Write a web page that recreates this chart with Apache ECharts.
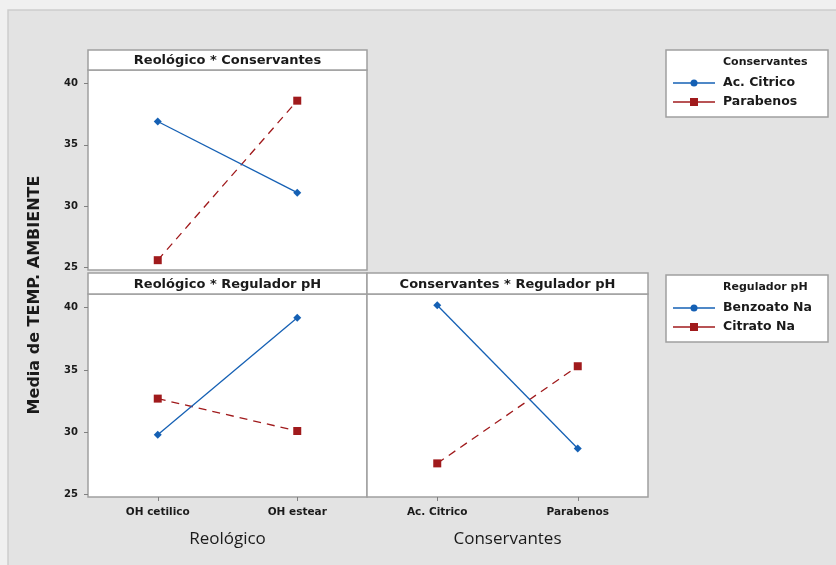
<!DOCTYPE html>
<html><head><meta charset="utf-8">
<script src="https://cdn.jsdelivr.net/npm/echarts@6/dist/echarts.min.js"></script>
<style>html,body{margin:0;padding:0;background:#f0f0f0;}#c{width:836px;height:565px;}</style>
</head><body><div id="c"></div>
<script>
// ---- data ----
const reologico = ['OH cetilico', 'OH estear'];
const conservantes = ['Ac. Citrico', 'Parabenos'];
const reguladorLevels = ['Benzoato Na', 'Citrato Na'];
const yTicks = [25, 30, 35, 40];
// Reológico * Conservantes
const p1AcCitrico = [36.9, 31.1];
const p1Parabenos = [25.6, 38.6];
// Reológico * Regulador pH
const p2Benzoato = [29.8, 39.2];
const p2Citrato = [32.7, 30.1];
// Conservantes * Regulador pH
const p3Benzoato = [40.2, 28.7];
const p3Citrato = [27.5, 35.3];

const BLUE = '#1560b4', RED = '#a01a1c', FRAME = '#a0a0a0', TXT = '#1a1a1a';
const BFONT = '"DejaVu Sans", sans-serif';
const FONT = '"Open Sans", "DejaVu Sans", sans-serif';
const yMin = 24.8, yMax = 41.1;

const grids = [
  {left: 88, top: 70, width: 279, height: 200},
  {left: 88, top: 294, width: 279, height: 203},
  {left: 367, top: 294, width: 281, height: 203}
];

function xAx(i, cats, showLabels, name) {
  return {
    type: 'category', gridIndex: i, data: cats, boundaryGap: true,
    axisLine: {show: false},
    axisTick: {show: showLabels, alignWithLabel: true, length: 4, lineStyle: {color: '#808080'}},
    axisLabel: {show: showLabels, color: TXT, fontSize: 10.5, fontWeight: 'bold', fontFamily: BFONT, margin: 10},
    name: name || '', nameLocation: 'middle', nameGap: 34,
    nameTextStyle: {color: TXT, fontSize: 17, fontFamily: FONT},
    splitLine: {show: false}
  };
}
function yAx(i, showLabels) {
  return {
    type: 'value', gridIndex: i, min: yMin, max: yMax,
    axisLine: {show: false},
    axisTick: {show: showLabels, length: 4, customValues: yTicks, lineStyle: {color: '#808080'}},
    axisLabel: {show: showLabels, customValues: yTicks, color: TXT, fontSize: 10, fontWeight: 'bold', fontFamily: BFONT, margin: 10},
    splitLine: {show: false}
  };
}
function ser(i, name, data, color, solid, symbol, size) {
  return {
    type: 'line', name: name, xAxisIndex: i, yAxisIndex: i, data: data,
    symbol: symbol, symbolSize: size, showSymbol: true,
    lineStyle: {color: color, width: 1.3, type: solid ? 'solid' : [8, 6]},
    itemStyle: {color: color}, z: solid ? 3 : 2, animation: false
  };
}

function strip(x, y, w, h, text) {
  return [
    {type: 'rect', shape: {x: x, y: y, width: w, height: h}, style: {fill: '#fff', stroke: FRAME, lineWidth: 1.5}, z: 5},
    {type: 'text', x: x + w / 2, y: y + h / 2 + 1, style: {text: text, fill: TXT, font: 'bold 13px ' + BFONT, align: 'center', verticalAlign: 'middle'}, z: 6}
  ];
}
function legendBox(y, title, items) {
  const g = [
    {type: 'rect', shape: {x: 666, y: y, width: 162, height: 67}, style: {fill: '#fff', stroke: FRAME, lineWidth: 1.5}, z: 5},
    {type: 'text', x: 723, y: y + 12, style: {text: title, fill: TXT, font: 'bold 11px ' + BFONT, verticalAlign: 'middle'}, z: 6}
  ];
  items.forEach((it, k) => {
    const yy = y + 33 + k * 19;
    g.push({type: 'line', shape: {x1: 673, y1: yy, x2: 715, y2: yy}, style: {stroke: it.color, lineWidth: 1.5}, z: 6});
    if (it.square) g.push({type: 'rect', shape: {x: 690, y: yy - 4, width: 8, height: 8}, style: {fill: it.color}, z: 7});
    else g.push({type: 'circle', shape: {cx: 694, cy: yy, r: 3.5}, style: {fill: it.color}, z: 7});
    g.push({type: 'text', x: 723, y: yy, style: {text: it.name, fill: TXT, font: 'bold 12.5px ' + BFONT, verticalAlign: 'middle'}, z: 6});
  });
  return g;
}

const graphics = [
  {type: 'rect', shape: {x: 8, y: 10, width: 840, height: 570}, style: {fill: '#e3e3e3', stroke: '#cdcdcd', lineWidth: 1.5}, z: -10},
  {type: 'rect', shape: {x: 88, y: 70, width: 279, height: 200}, style: {fill: '#fff', stroke: FRAME, lineWidth: 1.5}, z: -5},
  {type: 'rect', shape: {x: 88, y: 294, width: 279, height: 203}, style: {fill: '#fff', stroke: FRAME, lineWidth: 1.5}, z: -5},
  {type: 'rect', shape: {x: 367, y: 294, width: 281, height: 203}, style: {fill: '#fff', stroke: FRAME, lineWidth: 1.5}, z: -5},
  ...strip(88, 50, 279, 20, 'Reológico * Conservantes'),
  ...strip(88, 273, 279, 21, 'Reológico * Regulador pH'),
  ...strip(367, 273, 281, 21, 'Conservantes * Regulador pH'),
  ...legendBox(50, 'Conservantes', [
    {name: conservantes[0], color: BLUE, square: false},
    {name: conservantes[1], color: RED, square: true}]),
  ...legendBox(275, 'Regulador pH', [
    {name: reguladorLevels[0], color: BLUE, square: false},
    {name: reguladorLevels[1], color: RED, square: true}]),
  {type: 'text', x: 35, y: 295, rotation: Math.PI / 2,
   style: {text: 'Media de TEMP. AMBIENTE', fill: TXT, font: 'bold 16px ' + BFONT, align: 'center', verticalAlign: 'middle'}, z: 6}
];

const chart = echarts.init(document.getElementById('c'), null, {renderer: 'canvas'});
chart.setOption({
  backgroundColor: 'transparent',
  animation: false,
  grid: grids,
  xAxis: [xAx(0, reologico, false), xAx(1, reologico, true, 'Reológico'), xAx(2, conservantes, true, 'Conservantes')],
  yAxis: [yAx(0, true), yAx(1, true), yAx(2, false)],
  series: [
    ser(0, conservantes[0], p1AcCitrico, BLUE, true, 'diamond', 8),
    ser(0, conservantes[1], p1Parabenos, RED, false, 'rect', 8),
    ser(1, reguladorLevels[0], p2Benzoato, BLUE, true, 'diamond', 8),
    ser(1, reguladorLevels[1], p2Citrato, RED, false, 'rect', 8),
    ser(2, reguladorLevels[0], p3Benzoato, BLUE, true, 'diamond', 8),
    ser(2, reguladorLevels[1], p3Citrato, RED, false, 'rect', 8)
  ],
  graphic: graphics
});
</script></body></html>
